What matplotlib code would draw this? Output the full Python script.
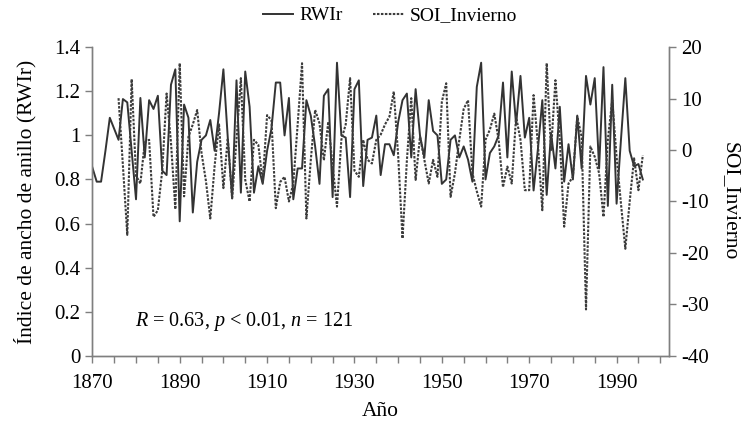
import matplotlib
matplotlib.use("Agg")
import matplotlib.pyplot as plt
from matplotlib.ticker import MultipleLocator, FormatStrFormatter

plt.rcParams['font.family'] = ['Liberation Serif', 'DejaVu Serif']
plt.rcParams['mathtext.fontset'] = 'custom'
plt.rcParams['mathtext.rm'] = 'Liberation Serif'
plt.rcParams['mathtext.it'] = 'Liberation Serif:italic'
plt.rcParams['axes.unicode_minus'] = False

# Índice de ancho de anillo (RWIr), 1870-1996
anios_rwi = list(range(1870, 1997))
rwir = [0.855, 0.79, 0.79, 0.93, 1.08, 1.03, 0.98, 1.165, 1.15, 0.93,
        0.71, 1.17, 0.90, 1.16, 1.12, 1.18, 0.84, 0.82, 1.23, 1.30,
        0.61, 1.14, 1.08, 0.65, 0.88, 0.98, 1.00, 1.07, 0.93, 1.10,
        1.30, 0.99, 0.715, 1.25, 0.74, 1.29, 1.13, 0.74, 0.86, 0.78,
        0.93, 1.03, 1.24, 1.24, 1.00, 1.17, 0.71, 0.85, 0.85, 1.16,
        1.09, 0.95, 0.78, 1.18, 1.21, 0.72, 1.33, 1.00, 0.99, 0.72,
        1.21, 1.25, 0.77, 0.98, 0.99, 1.09, 0.82, 0.96, 0.96, 0.91,
        1.06, 1.16, 1.19, 0.90, 1.21, 1.00, 0.90, 1.16, 1.02, 1.00,
        0.78, 0.80, 0.98, 1.00, 0.90, 0.95, 0.89, 0.79, 1.22, 1.33,
        0.80, 0.92, 0.95, 1.00, 1.24, 0.90, 1.29, 1.05, 1.27, 0.99,
        1.08, 0.75, 0.94, 1.16, 0.73, 1.01, 0.85, 1.13, 0.79, 0.96,
        0.80, 1.09, 0.85, 1.27, 1.14, 1.26, 0.85, 1.31, 0.68, 1.23,
        0.69, 0.98, 1.26, 0.93, 0.86, 0.87, 0.80]

# SOI de invierno, 1876-1996
anios_soi = list(range(1876, 1997))
soi = [10.1, -3.0, -16.5, 13.8, -5.0, -6.5, 1.5, 2.0, -13.0, -11.7,
       -4.0, 11.0, 1.5, -11.5, 16.9, -9.0, 2.6, 5.0, 7.8, -0.6,
       -6.0, -13.3, -3.0, 5.0, -7.4, 2.3, -9.4, 2.0, 14.0, -5.8,
       -10.0, 2.0, 1.0, -6.2, 6.8, 5.8, -11.3, -6.2, -5.2, -10.0,
       -6.5, 5.0, 16.9, -13.3, -2.0, 7.8, 5.2, -2.0, 5.5, -3.0,
       -11.0, 2.0, 5.0, 14.0, -4.0, -5.2, 2.0, -1.9, -2.6, 2.0,
       3.0, 5.0, 6.5, 11.4, -1.0, -17.2, -2.0, 10.1, -5.8, 2.6,
       -1.9, -6.5, -1.9, -5.2, 9.4, 13.0, -9.1, -4.5, 2.0, 8.0,
       9.7, -4.5, -8.0, -11.0, 2.0, 4.0, 7.1, 2.0, -7.2, -3.2,
       -6.5, 6.5, 2.0, -7.8, -7.8, 10.7, 1.0, -11.7, 16.9, 0.0,
       13.6, 2.0, -14.9, -6.5, -5.2, 6.5, 2.6, -31.0, 0.7, -1.3,
       -4.5, -13.0, 2.0, 9.7, -1.3, -10.4, -19.2, -10.0, -1.6, -7.8,
       -1.0]

anios_etiqueta = list(range(1870, 1991, 20))

gris = '#7f7f7f'

fig = plt.figure(figsize=(7.47, 4.23), dpi=100)
ax = fig.add_axes([0.1236, 0.1591, 0.772, 0.7291])
ax2 = ax.twinx()

l1, = ax.plot(anios_rwi, rwir, color='#333333', lw=1.4, label='RWIr')
l2, = ax2.plot(anios_soi, soi, color='#3c3c3c', lw=1.5, linestyle=(0, (1.2, 0.7)),
               label='SOI_Invierno')

ax.set_xlim(1870, 2002)
ax.set_ylim(0, 1.4)
ax2.set_ylim(-40, 20)

ax.set_xticks(anios_etiqueta)
ax.xaxis.set_minor_locator(MultipleLocator(5))
ax.yaxis.set_major_locator(MultipleLocator(0.2))
ax.yaxis.set_major_formatter(FormatStrFormatter('%g'))
ax2.yaxis.set_major_locator(MultipleLocator(10))

for a in (ax, ax2):
    a.spines['top'].set_visible(False)
    for s in ('left', 'right', 'bottom'):
        a.spines[s].set_color(gris)
        a.spines[s].set_linewidth(1.0)
    a.tick_params(which='both', direction='out', color=gris, labelsize=15, length=5, width=1)
ax.tick_params(axis='x', which='minor', length=5)
ax.tick_params(axis='x', pad=8)

ax.set_xlabel('Año', fontsize=15.5, labelpad=7)
ax.set_ylabel('Índice de ancho de anillo (RWIr)', fontsize=15.5, labelpad=13)
ax2.set_ylabel('SOI_Invierno', fontsize=15.5, rotation=270, labelpad=22)

ax.text(1879.8, 0.135, '$R$ = 0.63, $p$ < 0.01, $n$ = 121', fontsize=14.5)

fig.legend(handles=[l1, l2], loc='center', bbox_to_anchor=(0.522, 0.963), ncol=2,
           frameon=False, fontsize=14, handlelength=1.55, columnspacing=1.6,
           handletextpad=0.3)

fig.savefig('out.png', dpi=100)
